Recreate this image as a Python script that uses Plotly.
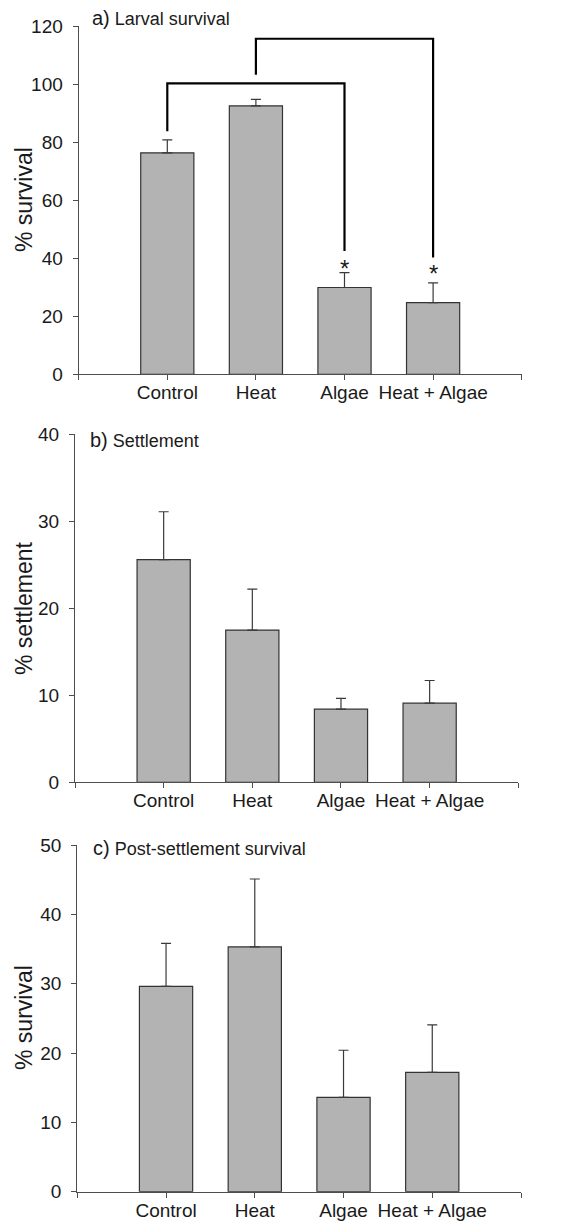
import plotly.graph_objects as go

W, H = 587, 1222

categories = ["Control", "Heat", "Algae", "Heat + Algae"]

larval_survival = [76.3, 92.5, 29.9, 24.7]
larval_err = [4.5, 2.2, 5.1, 6.8]

settlement = [25.6, 17.5, 8.4, 9.1]
settlement_err = [5.5, 4.7, 1.25, 2.6]

post_survival = [29.6, 35.3, 13.6, 17.2]
post_err = [6.2, 9.8, 6.8, 6.85]

# significance brackets in panel a
bracket1 = {"x": [1, 1, 3, 3], "y": [83.7, 100.2, 100.2, 42.5]}
bracket2 = {"x": [2, 2, 4, 4], "y": [103.2, 115.6, 115.6, 40.2]}
asterisk_x = [3, 4]
asterisk_y = [36.5, 34.8]

FONT = "Liberation Sans, Arial, Helvetica, sans-serif"
TXT = "#1a1a1a"
AXC = "#4d4d4d"
BAR = "#b3b3b3"

xpos = [1, 2, 3, 4]

def px_x(p):
    return p / W

def px_y(p):
    return 1 - p / H

fig = go.Figure()

panels = [
    (larval_survival, larval_err, "x", "y"),
    (settlement, settlement_err, "x2", "y2"),
    (post_survival, post_err, "x3", "y3"),
]
for vals, errs, xa, ya in panels:
    fig.add_trace(go.Bar(
        x=xpos, y=vals, xaxis=xa, yaxis=ya, width=0.6,
        marker=dict(color=BAR, line=dict(color="#333333", width=1.2)),
        error_y=dict(type="data", array=errs, arrayminus=[0] * len(errs), symmetric=False,
                     color="#3a3a3a", thickness=1.2, width=5),
        showlegend=False, hoverinfo="skip",
    ))

for br in (bracket1, bracket2):
    fig.add_trace(go.Scatter(
        x=br["x"], y=br["y"], xaxis="x", yaxis="y", mode="lines",
        line=dict(color="black", width=2.2), showlegend=False, hoverinfo="skip",
    ))

annotations = []
for ax_, ay_ in zip(asterisk_x, asterisk_y):
    annotations.append(dict(x=ax_, y=ay_, xref="x", yref="y", text="*", showarrow=False,
                            font=dict(family=FONT, size=24, color=TXT), yanchor="middle"))

# panel titles
titles = [("a)", "Larval survival", 90, 18), ("b)", "Settlement", 87.5, 440), ("c)", "Post-settlement survival", 90.5, 848)]
for lab, t, x, y in titles:
    annotations.append(dict(
        x=px_x(x), y=px_y(y), xref="paper", yref="paper", xanchor="left", yanchor="middle",
        text=f"<span style='font-size:20px'>{lab}</span> {t}", showarrow=False,
        font=dict(family=FONT, size=18, color=TXT)))

# y-axis titles
ytitles = [("% survival", 200), ("% settlement", 608), ("% survival", 1018)]
for t, y in ytitles:
    annotations.append(dict(
        x=px_x(24), y=px_y(y), xref="paper", yref="paper", xanchor="center", yanchor="middle",
        text=t, textangle=-90, showarrow=False, font=dict(family=FONT, size=23, color=TXT)))

def xaxis(dom, anchor):
    return dict(domain=dom, anchor=anchor, range=[0, 5], tickvals=[0, 1, 2, 3, 4, 5],
                ticktext=[""] + categories + [""], showgrid=False, zeroline=False,
                showline=True, linecolor=AXC, linewidth=1.2, ticks="outside", ticklen=5,
                tickcolor=AXC, tickwidth=1.2, ticklabelstandoff=-4,
                tickfont=dict(family=FONT, size=19, color=TXT), automargin=False, fixedrange=True)

def yaxis(dom, anchor, rng, dt):
    return dict(domain=dom, anchor=anchor, range=rng, dtick=dt, tick0=0, showgrid=False,
                zeroline=False, showline=True, linecolor=AXC, linewidth=1.2, ticks="outside",
                ticklen=5, tickcolor=AXC, tickwidth=1.2, ticklabelstandoff=6,
                tickfont=dict(family=FONT, size=19, color=TXT), automargin=False, fixedrange=True)

fig.update_layout(
    width=W, height=H, margin=dict(l=0, r=0, t=0, b=0),
    paper_bgcolor="white", plot_bgcolor="white",
    xaxis=xaxis([px_x(78.7), px_x(521.7)], "y"),
    yaxis=yaxis([px_y(374.3), px_y(26)], "x", [0, 120], 20),
    xaxis2=xaxis([px_x(75), px_x(518.3)], "y2"),
    yaxis2=yaxis([px_y(782.3), px_y(434.3)], "x2", [0, 40], 10),
    xaxis3=xaxis([px_x(77.3), px_x(521)], "y3"),
    yaxis3=yaxis([px_y(1191.7), px_y(845)], "x3", [0, 50], 10),
    annotations=annotations,
    bargap=0.4,
)

fig.write_html("out.html", config={"displayModeBar": False},
               post_script="document.body.style.margin='0';document.body.style.overflow='hidden';")
